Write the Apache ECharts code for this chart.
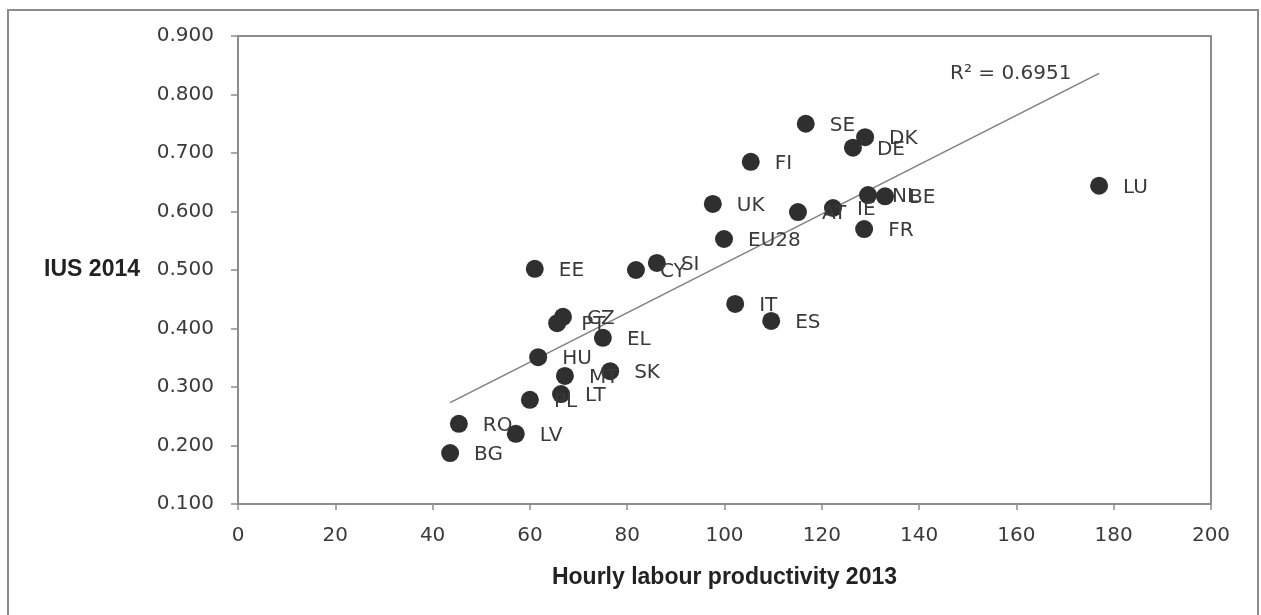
<!DOCTYPE html>
<html><head><meta charset="utf-8">
<script src="https://cdn.jsdelivr.net/npm/echarts@6/dist/echarts.min.js"></script>
<style>html,body{margin:0;padding:0;background:#fff}#c{width:1261px;height:615px}</style>
</head><body><div id="c"></div>
<script>
// ---- data ----
const countries = ['LU','SE','DK','DE','FI','NL','BE','UK','AT','IE','FR','EU28','EE','CY','SI','IT','ES','CZ','PT','EL','HU','SK','MT','LT','PL','RO','LV','BG'];
const productivity = [177.0,116.7,128.9,126.4,105.4,129.5,133.0,97.6,115.1,122.3,128.7,99.9,61.0,81.8,86.1,102.2,109.6,66.8,65.6,75.0,61.7,76.5,67.2,66.4,60.0,45.4,57.1,43.6];
const ius2014 = [0.644,0.750,0.727,0.709,0.685,0.628,0.626,0.613,0.599,0.606,0.570,0.553,0.502,0.500,0.512,0.442,0.413,0.420,0.409,0.384,0.351,0.327,0.319,0.288,0.278,0.237,0.220,0.187];
const xAxisRange = [0, 200, 20];
const yAxisRange = [0.1, 0.9, 0.1];
const rSquaredText = 'R² = 0.6951';
const xTitle = 'Hourly labour productivity 2013';
const yTitle = 'IUS 2014';

// ---- linear trendline (least squares) ----
const n = productivity.length;
const mx = productivity.reduce((a,b)=>a+b,0)/n;
const my = ius2014.reduce((a,b)=>a+b,0)/n;
let sxy = 0, sxx = 0;
for (let i=0;i<n;i++){ sxy += (productivity[i]-mx)*(ius2014[i]-my); sxx += (productivity[i]-mx)**2; }
const slope = sxy/sxx, intercept = my - slope*mx;
const xmin = Math.min(...productivity), xmax = Math.max(...productivity);
const trend = [[xmin, intercept+slope*xmin],[xmax, intercept+slope*xmax]];

const points = countries.map((c,i)=>({name:c, value:[productivity[i], ius2014[i]]}));

const GRAY = '#8c8c8c';
const TXT = '#3a3a3a';
const chart = echarts.init(document.getElementById('c'), null, {renderer:'canvas'});
chart.setOption({
  animation:false,
  backgroundColor:'#fff',
  grid:{left:238, right:50, top:36, bottom:111, show:true, borderColor:GRAY, borderWidth:2},
  graphic:[
    {type:'rect', shape:{x:8,y:10,width:1250,height:660}, style:{fill:'none', stroke:GRAY, lineWidth:2}, silent:true},
    {type:'text', left:950, top:64, style:{text:rSquaredText, font:'20px "DejaVu Sans"', fill:TXT}, silent:true}
  ],
  xAxis:{
    type:'value', min:xAxisRange[0], max:xAxisRange[1], interval:xAxisRange[2],
    axisLine:{show:true, lineStyle:{color:GRAY, width:2}},
    axisTick:{show:true, length:6, lineStyle:{color:GRAY, width:1.5}},
    splitLine:{show:false},
    axisLabel:{color:TXT, fontFamily:'DejaVu Sans', fontSize:20, margin:22},
    name:xTitle, nameLocation:'middle', nameGap:62,
    nameTextStyle:{color:'#222', fontFamily:'Liberation Sans', fontWeight:'bold', fontSize:23}
  },
  yAxis:{
    type:'value', min:yAxisRange[0], max:yAxisRange[1], interval:yAxisRange[2],
    axisLine:{show:true, lineStyle:{color:GRAY, width:2}},
    axisTick:{show:true, length:7, lineStyle:{color:GRAY, width:1.5}},
    splitLine:{show:false},
    axisLabel:{color:TXT, fontFamily:'DejaVu Sans', fontSize:20, margin:24, formatter:v=>v.toFixed(3)},
    name:yTitle, nameLocation:'middle', nameGap:98, nameRotate:0,
    nameTextStyle:{color:'#222', fontFamily:'Liberation Sans', fontWeight:'bold', fontSize:23, align:'right'}
  },
  series:[
    {type:'line', data:trend, symbol:'none', lineStyle:{color:'#7f7f7f', width:1.5}, silent:true, z:1},
    {type:'scatter', data:points, symbol:'circle', symbolSize:18,
     itemStyle:{color:'#2f2f2f', opacity:1},
     label:{show:true, position:'right', distance:15, offset:[0,2], formatter:p=>p.name, color:TXT, fontFamily:'DejaVu Sans', fontSize:20},
     z:2}
  ]
});
</script></body></html>
